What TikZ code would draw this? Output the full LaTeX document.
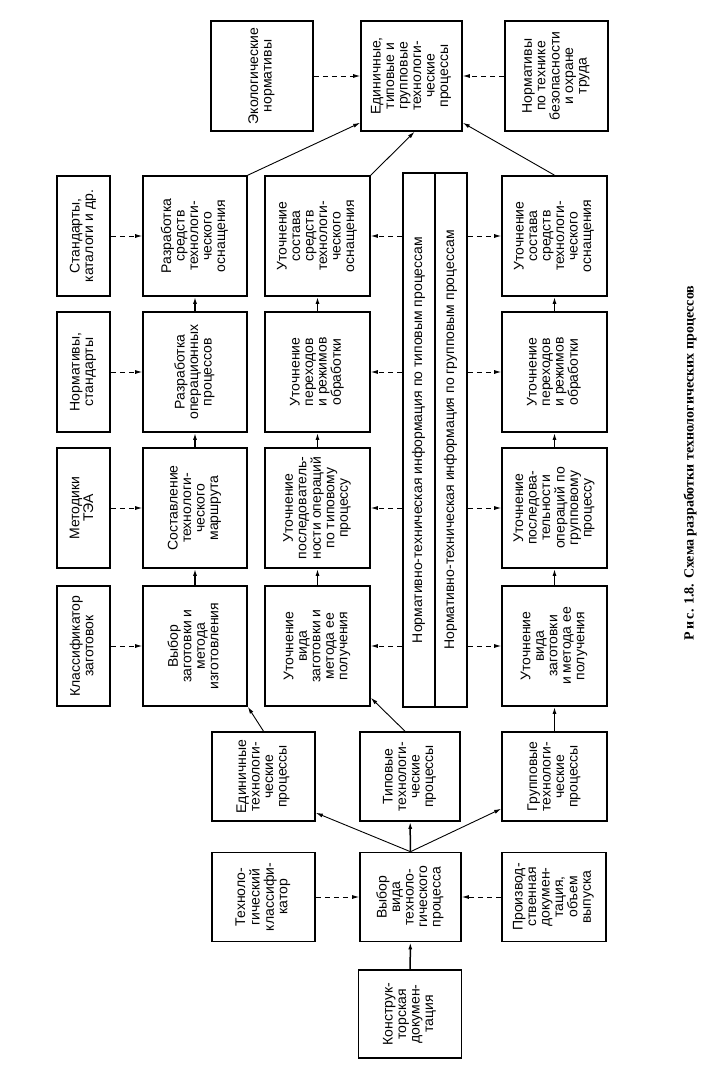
\documentclass[tikz,border=0pt]{standalone}
\usepackage{fontspec}
\setmainfont{Liberation Sans}
\newfontfamily\capfont{Liberation Serif}
\usepackage{graphicx}
\usetikzlibrary{arrows.meta}

% vertical (rotated) text block
\newcommand{\vt}[1]{\rotatebox{90}{\begin{tabular}{@{}c@{}}#1\end{tabular}}}

\tikzset{
  blk/.style={draw, line width=1.6pt, inner sep=0pt, font=\fontsize{14}{13.5}\selectfont},
  tall/.style={minimum width=104pt, minimum height=120pt},
  slim/.style={minimum width=53pt, minimum height=120pt},
  low/.style={minimum width=103pt, minimum height=89pt},
  head/.style={minimum width=102pt, minimum height=110pt},
  arr/.style={line width=0.9pt, -{Latex[length=7pt,width=4pt]}},
  sarr/.style={arr, line width=1.5pt},
  darr/.style={arr, dash pattern=on 5pt off 4pt},
}

\begin{document}
\begin{tikzpicture}[x=1pt, y=-1pt]
  \useasboundingbox (0,0) rectangle (720,1091);

  % top row
  \node[blk, head] (eco) at (262,76) {\vt{Экологические\\нормативы}};
  \node[blk, head, minimum width=101pt] (procs) at (411.5,76) {\vt{Единичные,\\типовые и\\групповые\\технологи-\\ческие\\процессы}};
  \node[blk, head, minimum width=103pt] (safety) at (556.5,76) {\vt{Нормативы\\по технике\\безопасности\\и охране\\труда}};

  % sources of data (left column)
  \node[blk, slim] (std)  at (83.5,236) {\vt{Стандарты,\\каталоги и др.}};
  \node[blk, slim] (norm) at (83.5,372) {\vt{Нормативы,\\стандарты}};
  \node[blk, slim] (tea)  at (83.5,508) {\vt{Методики\\ТЭА}};
  \node[blk, slim] (cls)  at (83.5,646) {\vt{Классификатор\\заготовок}};

  % single processes
  \node[blk, tall] (devtool) at (195,236) {\vt{Разработка\\средств\\технологи-\\ческого\\оснащения}};
  \node[blk, tall] (devop)   at (195,372) {\vt{Разработка\\операционных\\процессов}};
  \node[blk, tall] (route)   at (195,508) {\vt{Составление\\технологи-\\ческого\\маршрута}};
  \node[blk, tall] (blank)   at (195,646) {\vt{Выбор\\заготовки и\\метода\\изготовления}};

  % typical processes
  \node[blk, tall, minimum width=105pt] (typtool)  at (317.5,236) {\vt{Уточнение\\состава\\средств\\технологи-\\ческого\\оснащения}};
  \node[blk, tall, minimum width=105pt] (typmode)  at (317.5,372) {\vt{Уточнение\\переходов\\и режимов\\обработки}};
  \node[blk, tall, minimum width=105pt] (typseq)   at (317.5,508) {\vt{Уточнение\\последователь-\\ности операций\\по типовому\\процессу}};
  \node[blk, tall, minimum width=105pt] (typblank) at (317.5,646) {\vt{Уточнение\\вида\\заготовки и\\метода ее\\получения}};

  % information bar
  \node[blk, minimum width=32pt, minimum height=534pt] (barT) at (419,440) {\vt{Нормативно-техническая информация по типовым процессам}};
  \node[blk, minimum width=32pt, minimum height=534pt] (barG) at (451,440) {\vt{Нормативно-техническая информация по групповым процессам}};

  % group processes
  \node[blk, tall, minimum width=105pt] (grptool)  at (554.5,236) {\vt{Уточнение\\состава\\средств\\технологи-\\ческого\\оснащения}};
  \node[blk, tall, minimum width=105pt] (grpmode)  at (554.5,372) {\vt{Уточнение\\переходов\\и режимов\\обработки}};
  \node[blk, tall, minimum width=105pt] (grpseq)   at (554.5,508) {\vt{Уточнение\\последова-\\тельности\\операций по\\групповому\\процессу}};
  \node[blk, tall, minimum width=105pt] (grpblank) at (554.5,646) {\vt{Уточнение\\вида\\заготовки\\и метода ее\\получения}};

  % kinds of process
  \node[blk, low] (unit) at (263.5,776.5) {\vt{Единичные\\технологи-\\ческие\\процессы}};
  \node[blk, low, minimum width=100pt] (typ) at (410,776.5) {\vt{Типовые\\технологи-\\ческие\\процессы}};
  \node[blk, low, minimum width=105pt] (grp) at (554.5,776.5) {\vt{Групповые\\технологи-\\ческие\\процессы}};

  % choice of process
  \node[blk, low] (tclass) at (263.5,897) {\vt{Техноло-\\гический\\классифи-\\катор}};
  \node[blk, low, minimum width=101pt] (choice) at (410.5,897) {\vt{Выбор\\вида\\техноло-\\гического\\процесса}};
  \node[blk, low, minimum width=104pt] (prod) at (554,897) {\vt{Производ-\\ственная\\докумен-\\тация,\\объем\\выпуска}};
  \node[blk, low, minimum width=103pt, minimum height=88pt] (design) at (410,1014) {\vt{Конструк-\\торская\\докумен-\\тация}};

  % caption
  \node[rotate=90, font=\capfont\bfseries\fontsize{14}{14}\selectfont] (cap) at (690,463) {Р\,и\,с. 1.8. Схема разработки технологических процессов};

  % dashed inputs
  \draw[darr] (std) -- (devtool);
  \draw[darr] (norm) -- (devop);
  \draw[darr] (tea) -- (route);
  \draw[darr] (cls) -- (blank);
  \draw[darr] (eco) -- (procs);
  \draw[darr] (safety) -- (procs);
  \draw[darr] (tclass) -- (choice);
  \draw[darr] (prod) -- (choice);
  \foreach \n in {typtool,typmode,typseq,typblank}
    \draw[darr] (\n -| barT.west) -- (\n.east);
  \foreach \n in {grptool,grpmode,grpseq,grpblank}
    \draw[darr] (\n -| barG.east) -- (\n.west);

  % chains
  \draw[sarr] (blank) -- (route);
  \draw[sarr] (route) -- (devop);
  \draw[sarr] (devop) -- (devtool);
  \draw[sarr] (typblank) -- (typseq);
  \draw[sarr] (typseq) -- (typmode);
  \draw[sarr] (typmode) -- (typtool);
  \draw[sarr] (grpblank) -- (grpseq);
  \draw[sarr] (grpseq) -- (grpmode);
  \draw[sarr] (grpmode) -- (grptool);

  % to the resulting processes
  \draw[arr] (devtool.north east) -- ([yshift=9pt]procs.south west);
  \draw[arr] (typtool.north east) -- ([xshift=3pt]procs.south);
  \draw[arr] (grptool.north) -- ([yshift=9pt]procs.south east);

  % from kinds of process
  \draw[arr] (unit.north) -- (blank.south east);
  \draw[arr] ([xshift=-5pt]typ.north) -- ([yshift=9pt]typblank.south east);
  \draw[sarr] (grp) -- (grpblank);

  % from choice of process
  \draw[arr] (choice.north) -- ([yshift=9pt]unit.south east);
  \draw[sarr] (choice) -- (typ);
  \draw[arr] (choice.north) -- ([yshift=13pt]grp.south west);
  \draw[sarr] (design) -- (choice);
\end{tikzpicture}
\end{document}
